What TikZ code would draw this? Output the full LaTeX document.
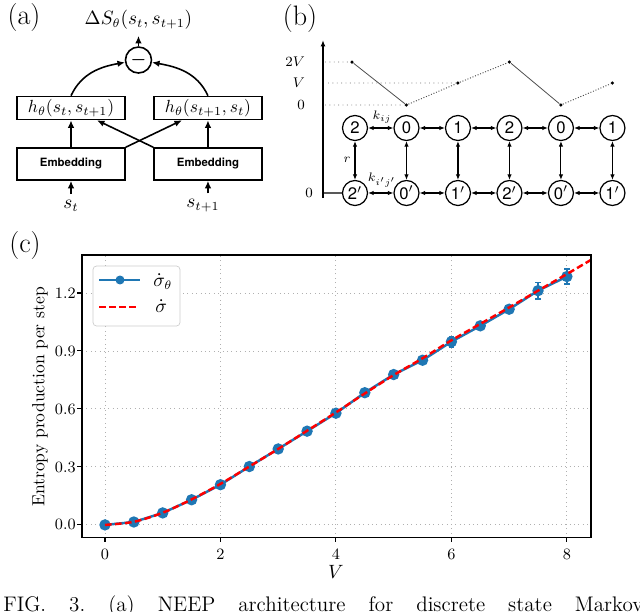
\documentclass[tikz,border=0pt]{standalone}
\usepackage{amsmath}
\usepackage{fontspec}
\usepackage{tikz}
\newfontfamily\helv{TeX Gyre Heros}
\definecolor{mplblue}{HTML}{1F77B4}
\definecolor{gridgray}{HTML}{B0B0B0}
\definecolor{legendgray}{HTML}{CCCCCC}
\usetikzlibrary{arrows.meta, positioning, calc}

\begin{document}
\begin{tikzpicture}[
            x=0.02cm, y=-0.02cm,
            >={Latex[width=1.3mm,length=1.5mm]},
                panellabel/.style = {font=\fontsize{16}{18}\selectfont},
                netbox/.style = {rectangle, draw=black, line width=0.9pt,
                            minimum width=2.16cm, inner sep=0pt},
                hbox/.style = {netbox, minimum height=0.46cm,
                            font=\fontsize{10}{12}\selectfont},
                embbox/.style = {netbox, minimum height=0.64cm,
                            font=\fontsize{6.5}{8}\selectfont\helv\bfseries},
                opcircle/.style = {circle, draw=black, line width=0.9pt,
                            minimum size=0.52cm, inner sep=0pt},
                netarrow/.style = {->, line width=0.9pt},
                statecircle/.style = {circle, draw=black, line width=0.7pt,
                            minimum size=0.5cm, inner sep=0pt,
                            font=\fontsize{9.5}{11}\selectfont\helv},
                rate/.style = {{Latex[width=0.9mm,length=1.1mm]}-{Latex[width=0.9mm,length=1.1mm]},
                            line width=0.6pt},
                ratelbl/.style = {font=\fontsize{7.5}{9}\selectfont, inner sep=1pt},
                edot/.style = {circle, fill=black, inner sep=0pt, minimum size=0.07cm},
                downhill/.style = {draw=black!70, line width=0.45pt},
                uphill/.style = {draw=black!70, line width=0.55pt, densely dotted},
                guide/.style = {draw=black!55, dotted, line width=0.5pt},
                levellbl/.style = {font=\fontsize{8}{9}\selectfont, inner sep=1pt},
                gridline/.style = {draw=gridgray, dotted, line width=0.5pt},
                axisframe/.style = {draw=black, line width=0.7pt},
                tickmark/.style = {draw=black, line width=0.6pt},
                ticklbl/.style = {font=\fontsize{9.5}{11}\selectfont, inner sep=0pt},
                bluecurve/.style = {draw=mplblue, line width=1.4pt},
                bluedot/.style = {circle, fill=mplblue, inner sep=0pt, minimum size=0.18cm},
                errbar/.style = {draw=mplblue, line width=0.9pt},
                theory/.style = {draw=red, line width=1.4pt, dash pattern=on 3.8pt off 1.9pt},
                legendframe/.style = {rectangle, rounded corners=2pt, draw=legendgray,
                            fill=white, minimum width=1.74cm, minimum height=1.2cm},
                legendlbl/.style = {font=\fontsize{10.5}{12}\selectfont, anchor=west, inner sep=0pt}]
            \useasboundingbox (0,0) rectangle (640,612);

            % panel labels
            \node (PanelA) [panellabel] at (24,17) {(a)};
            \node (PanelB) [panellabel] at (300,18) {(b)};
            \node (PanelC) [panellabel] at (25,245) {(c)};

            % (a) network
            \node (HLeft) [hbox] at (71,108) {$h_\theta(s_t, s_{t+1})$};
            \node (HRight) [hbox, right of=HLeft, node distance=2.74cm] {$h_\theta(s_{t+1}, s_t)$};
            \node (EmbLeft) [embbox, below of=HLeft, node distance=1.12cm] {Embedding};
            \node (EmbRight) [embbox, below of=HRight, node distance=1.12cm] {Embedding};
            \node (Minus) [opcircle, above of=HLeft, node distance=0.96cm, xshift=1.35cm] {$\boldsymbol{-}$};
            \node (DeltaS) [above of=Minus, node distance=0.8cm, font=\fontsize{10.5}{12}\selectfont] {$\Delta S_\theta(s_t, s_{t+1})$};
            \node (InLeft) [below of=EmbLeft, node distance=0.84cm, font=\fontsize{10.5}{12}\selectfont] {$s_t$};
            \node (InRight) [below of=EmbRight, node distance=0.84cm, xshift=-0.1cm, font=\fontsize{10.5}{12}\selectfont] {$s_{t+1}$};
            \draw[netarrow] (InLeft.north -| EmbLeft.south) -- (EmbLeft.south);
            \draw[netarrow] (InRight.north -| EmbRight.south) -- (EmbRight.south);
            \draw[netarrow] (EmbLeft) -- (HLeft);
            \draw[netarrow] (EmbRight) -- (HRight);
            \draw[netarrow] (EmbLeft.north east) -- ([xshift=-0.52cm]HRight.south);
            \draw[netarrow] (EmbRight.north west) -- ([xshift=0.52cm]HLeft.south);
            \draw[netarrow] (HLeft.north) to [out=65, in=190] (Minus);
            \draw[netarrow] (HRight.north) to [out=115, in=-10] (Minus);
            \draw[netarrow] (Minus) -- (DeltaS);

            % (b) ladder of states
            \node (Upper2a) [statecircle] at (355,128) {2};
            \node (Upper0a) [statecircle, right of=Upper2a, node distance=1.03cm] {0};
            \node (Upper1a) [statecircle, right of=Upper0a, node distance=1.03cm] {1};
            \node (Upper2b) [statecircle, right of=Upper1a, node distance=1.03cm] {2};
            \node (Upper0b) [statecircle, right of=Upper2b, node distance=1.03cm] {0};
            \node (Upper1b) [statecircle, right of=Upper0b, node distance=1.03cm] {1};
            \node (Lower2a) [statecircle, below of=Upper2a, node distance=1.3cm] {2$'$};
            \node (Lower0a) [statecircle, below of=Upper0a, node distance=1.3cm] {0$'$};
            \node (Lower1a) [statecircle, below of=Upper1a, node distance=1.3cm] {1$'$};
            \node (Lower2b) [statecircle, below of=Upper2b, node distance=1.3cm] {2$'$};
            \node (Lower0b) [statecircle, below of=Upper0b, node distance=1.3cm] {0$'$};
            \node (Lower1b) [statecircle, below of=Upper1b, node distance=1.3cm] {1$'$};
            \node (Level2a) [edot, above of=Upper2a, node distance=1.32cm, xshift=-0.06cm] {};
            \node (Level0a) [edot, above of=Upper0a, node distance=0.46cm] {};
            \node (Level1a) [edot, above of=Upper1a, node distance=0.9cm] {};
            \node (Level2b) [edot, above of=Upper2b, node distance=1.32cm] {};
            \node (Level0b) [edot, above of=Upper0b, node distance=0.46cm] {};
            \node (Level1b) [edot, above of=Upper1b, node distance=0.9cm] {};
            \coordinate (AxisFoot) at (323,198);
            \coordinate (AxisHead) at (323,40);
            \coordinate (AxisBase) at (323,193);
            \coordinate (Mark2V) at (325,62);
            \coordinate (MarkV) at (328,83);
            \coordinate (MarkZero) at (325,105);
            \node (Label2V) [levellbl, anchor=east] at (307,62) {$2V$};
            \node (LabelV) [levellbl, anchor=east] at (307,83) {$V$};
            \node (LabelZero) [levellbl, anchor=east] at (307,105) {$0$};
            \node (LabelBase) [levellbl] at (309,193) {$0$};
            \node (RateK) [ratelbl] at (382,117) {$k_{ij}$};
            \node (RateR) [ratelbl] at (347,160) {$r$};
            \node (RateKp) [ratelbl] at (382,180) {$k_{i'j'}$};
            \draw[->, line width=0.9pt, >={Latex[width=1mm,length=1.3mm]}] (AxisFoot) -- (AxisHead);
            \draw[line width=0.6pt] (AxisBase) -- (Lower2a);
            \draw[guide] (Mark2V) -- (Level2a);
            \draw[guide] (MarkV) -- (Level1a);
            \draw[guide] (MarkZero) -- (Level0a);
            \draw[downhill] (Level2a) -- (Level0a);
            \draw[uphill] (Level0a) -- (Level1a);
            \draw[uphill] (Level1a) -- (Level2b);
            \draw[downhill] (Level2b) -- (Level0b);
            \draw[uphill] (Level0b) -- (Level1b);
            \draw[rate] (Upper2a) -- (Upper0a);
            \draw[rate] (Upper0a) -- (Upper1a);
            \draw[rate] (Upper1a) -- (Upper2b);
            \draw[rate] (Upper2b) -- (Upper0b);
            \draw[rate] (Upper0b) -- (Upper1b);
            \draw[rate] (Lower2a) -- (Lower0a);
            \draw[rate] (Lower0a) -- (Lower1a);
            \draw[rate] (Lower1a) -- (Lower2b);
            \draw[rate] (Lower2b) -- (Lower0b);
            \draw[rate] (Lower0b) -- (Lower1b);
            \draw[rate] (Upper2a) -- (Lower2a);
            \draw[rate] (Upper0a) -- (Lower0a);
            \draw[rate] (Upper1a) -- (Lower1a);
            \draw[rate] (Upper2b) -- (Lower2b);
            \draw[rate] (Upper0b) -- (Lower0b);
            \draw[rate] (Upper1b) -- (Lower1b);

            % (c) entropy production against V
            \begin{scope}[shift={(2.1cm,-10.5cm)}, x=1.155cm, y=3.866cm]
                \draw[gridline] (0,-0.067) -- (0,1.397);
                \draw[gridline] (2,-0.067) -- (2,1.397);
                \draw[gridline] (4,-0.067) -- (4,1.397);
                \draw[gridline] (6,-0.067) -- (6,1.397);
                \draw[gridline] (8,-0.067) -- (8,1.397);
                \draw[gridline] (-0.398,0) -- (8.416,0);
                \draw[gridline] (-0.398,0.3) -- (8.416,0.3);
                \draw[gridline] (-0.398,0.6) -- (8.416,0.6);
                \draw[gridline] (-0.398,0.9) -- (8.416,0.9);
                \draw[gridline] (-0.398,1.2) -- (8.416,1.2);
                \draw[tickmark] (0,-0.067) -- (0,-0.09);
                \draw[tickmark] (2,-0.067) -- (2,-0.09);
                \draw[tickmark] (4,-0.067) -- (4,-0.09);
                \draw[tickmark] (6,-0.067) -- (6,-0.09);
                \draw[tickmark] (8,-0.067) -- (8,-0.09);
                \draw[tickmark] (-0.398,0) -- (-0.476,0);
                \draw[tickmark] (-0.398,0.3) -- (-0.476,0.3);
                \draw[tickmark] (-0.398,0.6) -- (-0.476,0.6);
                \draw[tickmark] (-0.398,0.9) -- (-0.476,0.9);
                \draw[tickmark] (-0.398,1.2) -- (-0.476,1.2);
                \node (TickX0) [ticklbl] at (0,-0.155) {$0$};
                \node (TickX2) [ticklbl] at (2,-0.155) {$2$};
                \node (TickX4) [ticklbl] at (4,-0.155) {$4$};
                \node (TickX6) [ticklbl] at (6,-0.155) {$6$};
                \node (TickX8) [ticklbl] at (8,-0.155) {$8$};
                \node (TickY00) [ticklbl, anchor=east] at (-0.502,0) {$0.0$};
                \node (TickY03) [ticklbl, anchor=east] at (-0.502,0.3) {$0.3$};
                \node (TickY06) [ticklbl, anchor=east] at (-0.502,0.6) {$0.6$};
                \node (TickY09) [ticklbl, anchor=east] at (-0.502,0.9) {$0.9$};
                \node (TickY12) [ticklbl, anchor=east] at (-0.502,1.2) {$1.2$};
                \node (AxisLabelY) [rotate=90, font=\fontsize{10}{12}\selectfont] at (-1.126,0.662) {Entropy production per step};
                \node (AxisLabelX) [font=\fontsize{11}{13}\selectfont] at (4.0,-0.243) {$V$};
                \draw[bluecurve] plot[mark=*, mark size=2.5pt, mark options={fill=mplblue, draw=mplblue}] coordinates {
                    (0,0) (0.5,0.015) (1,0.062) (1.5,0.13) (2,0.208) (2.5,0.302) (3,0.393)
                    (3.5,0.485) (4,0.578) (4.5,0.684) (5,0.778) (5.5,0.852) (6,0.948)
                    (6.5,1.03) (7,1.116) (7.5,1.212) (8,1.285)};
                \draw[errbar] (6,0.921) -- (6,0.975);
                \draw[errbar] (5.95,0.921) -- (6.05,0.921);
                \draw[errbar] (5.95,0.975) -- (6.05,0.975);
                \draw[errbar] (7.5,1.170) -- (7.5,1.254);
                \draw[errbar] (7.45,1.170) -- (7.55,1.170);
                \draw[errbar] (7.45,1.254) -- (7.55,1.254);
                \draw[errbar] (8,1.245) -- (8,1.325);
                \draw[errbar] (7.95,1.245) -- (8.05,1.245);
                \draw[errbar] (7.95,1.325) -- (8.05,1.325);
                \draw[theory] plot[smooth] coordinates {
                    (0,0) (0.5,0.016) (1,0.063) (1.5,0.132) (2,0.212) (2.5,0.302) (3,0.393)
                    (3.5,0.487) (4,0.582) (4.5,0.68) (5,0.775) (5.5,0.862) (6,0.955)
                    (6.5,1.04) (7,1.125) (7.5,1.212) (8,1.298) (8.416,1.371)};
                \draw[axisframe] (-0.398,-0.067) rectangle (8.416,1.397);
            \end{scope}

            % legend
            \node (LegendBox) [legendframe] at (136.5,296) {};
            \coordinate (LegBlueL) at (99,280);
            \coordinate (LegBlueR) at (140,280);
            \coordinate (LegRedL) at (99,307);
            \coordinate (LegRedR) at (139,307);
            \draw[bluecurve] (LegBlueL) -- (LegBlueR);
            \node (LegBlueDot) [bluedot] at (120,280) {};
            \draw[theory] (LegRedL) -- (LegRedR);
            \node (LegBlueText) [legendlbl] at (153,282) {$\dot{\sigma}_\theta$};
            \node (LegRedText) [legendlbl] at (155,306) {$\dot{\sigma}$};

            % caption, cut by the page edge
            \node (Caption) [anchor=base west, inner sep=0pt, font=\fontsize{12}{14}\selectfont] at (3,611)
                {\frenchspacing\makebox[12.8cm][s]{FIG. 3. (a) NEEP architecture for discrete state Markov}};
        \end{tikzpicture}
\end{document}
